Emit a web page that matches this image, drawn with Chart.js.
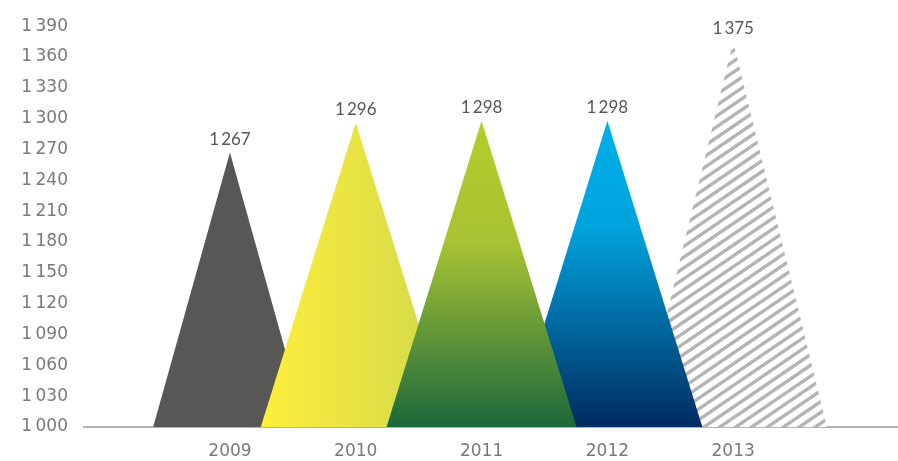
<!DOCTYPE html>
<html>
<head>
<meta charset="utf-8">
<script src="https://cdn.jsdelivr.net/npm/chart.js@4"></script>
<style>
  html, body { margin: 0; padding: 0; background: #fff; }
  #wrap { width: 898px; height: 461px; }
</style>
</head>
<body>
<div id="wrap"><canvas id="peaksChart"></canvas></div>
<script>
// --- data ---
const years = [2009, 2010, 2011, 2012, 2013];
const values = [1267, 1296, 1298, 1298, 1375];
const yTicks = [1000, 1030, 1060, 1090, 1120, 1150, 1180, 1210, 1240, 1270, 1300, 1330, 1360, 1390];

// thousands separated by a narrow space, like "1 267"
const fmt = (v) => String(v).replace(/\B(?=(\d{3})+(?!\d))/g, "\u2009");

// triangle half width (in years) and paint order (2011 sits on top)
const halfWidths = [0.61, 0.755, 0.755, 0.755, 0.745];
const drawOrder = [4, 3, 0, 1, 2];

const fillFor = (ctx, i, left, right, top, base) => {
  let g;
  switch (i) {
    case 0:
      return "#575756";
    case 1:
      g = ctx.createLinearGradient(left, 0, right, 0);
      g.addColorStop(0, "#ffee3a");
      g.addColorStop(1, "#cfd84c");
      return g;
    case 2:
      g = ctx.createLinearGradient(0, top, 0, base);
      g.addColorStop(0, "#b6cc2b");
      g.addColorStop(0.4, "#a8c333");
      g.addColorStop(1, "#1a683c");
      return g;
    case 3:
      g = ctx.createLinearGradient(0, top, 0, base);
      g.addColorStop(0, "#00afe8");
      g.addColorStop(0.35, "#00a3dc");
      g.addColorStop(1, "#002b60");
      return g;
  }
  return null;
};

// draws each point as a triangle standing on the x axis
const peaks = {
  id: "peaks",
  beforeDatasetsDraw(chart) {
    const { ctx, scales } = chart;
    const meta = chart.getDatasetMeta(0);
    const base = scales.y.getPixelForValue(yTicks[0]);

    drawOrder.forEach((i) => {
      const pt = meta.data[i];
      const hw = scales.x.getPixelForValue(years[i] + halfWidths[i]) - pt.x;
      const left = pt.x - hw, right = pt.x + hw;

      ctx.save();
      ctx.beginPath();
      ctx.moveTo(left, base);
      ctx.lineTo(pt.x, pt.y);
      ctx.lineTo(right, base);
      ctx.closePath();

      const fill = fillFor(ctx, i, left, right, pt.y, base);
      if (fill) {
        ctx.fillStyle = fill;
        ctx.fill();
      } else {
        // hatched forecast
        ctx.fillStyle = "#fff";
        ctx.fill();
        ctx.clip();
        ctx.strokeStyle = "#b4b4b4";
        ctx.lineWidth = 3.4;
        const slope = 0.68;
        const span = right - left + 8;
        for (let yy = pt.y; yy < base + span * slope + 12; yy += 10.8) {
          ctx.beginPath();
          ctx.moveTo(left - 4, yy);
          ctx.lineTo(right + 4, yy - span * slope);
          ctx.stroke();
        }
      }
      ctx.restore();
    });
  },
  afterDatasetsDraw(chart) {
    const { ctx } = chart;
    const meta = chart.getDatasetMeta(0);
    ctx.save();
    ctx.font = "17px Lato";
    ctx.fillStyle = "#575756";
    ctx.textAlign = "center";
    ctx.textBaseline = "alphabetic";
    meta.data.forEach((pt, i) => {
      ctx.fillText(fmt(values[i]), pt.x, pt.y - 8);
    });
    ctx.restore();
  },
};

const tickFont = { family: "DejaVu Sans", size: 17 };

new Chart(document.getElementById("peaksChart"), {
  type: "line",
  data: {
    datasets: [
      {
        data: years.map((yr, i) => ({ x: yr, y: values[i] })),
        showLine: false,
        pointRadius: 0,
        pointHoverRadius: 0,
      },
    ],
  },
  options: {
    responsive: true,
    maintainAspectRatio: false,
    animation: false,
    layout: { padding: { top: 18, right: 0, left: 0, bottom: 0 } },
    plugins: { legend: { display: false }, tooltip: { enabled: false } },
    scales: {
      x: {
        type: "linear",
        min: 2007.84,
        max: 2014.31,
        z: 1,
        grid: { display: false, drawTicks: false },
        border: { display: true, color: "#b3b3b3", width: 2 },
        afterBuildTicks: (scale) => {
          scale.ticks = years.map((v) => ({ value: v }));
        },
        afterFit: (scale) => {
          scale.height = 34;
        },
        ticks: {
          autoSkip: false,
          maxRotation: 0,
          padding: 14,
          color: "#797979",
          font: tickFont,
          callback: (v) => String(v),
        },
      },
      y: {
        min: yTicks[0],
        max: yTicks[yTicks.length - 1],
        grid: { display: false, drawTicks: false },
        border: { display: false },
        afterBuildTicks: (scale) => {
          scale.ticks = yTicks.map((v) => ({ value: v }));
        },
        afterFit: (scale) => {
          scale.width = 84;
        },
        ticks: {
          autoSkip: false,
          padding: 16,
          color: "#797979",
          font: tickFont,
          callback: (v) => fmt(v),
        },
      },
    },
  },
  plugins: [peaks],
});
</script>
</body>
</html>
